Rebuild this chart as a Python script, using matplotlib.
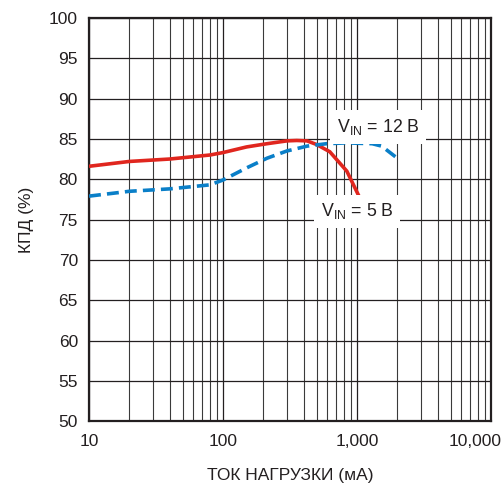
import matplotlib
matplotlib.use("Agg")
import matplotlib.pyplot as plt
from matplotlib.ticker import FixedLocator, LogLocator, NullFormatter
from matplotlib.transforms import ScaledTranslation

# load current (mA) vs efficiency (%)
red_x = [10, 20, 40, 80, 100, 150, 213, 300, 355, 424, 500, 627, 840, 1070]
red_y = [81.6, 82.2, 82.5, 83.0, 83.3, 84.0, 84.4, 84.75, 84.8, 84.75, 84.3, 83.4, 81.0, 77.4]

blue_x = [10, 20, 40, 80, 100, 150, 213, 300, 424, 593, 830, 1300, 1530, 2000]
blue_y = [77.9, 78.5, 78.8, 79.3, 79.9, 81.4, 82.6, 83.5, 84.1, 84.4, 84.5, 84.4, 84.1, 82.6]

x_ticks = [10, 100, 1000, 10000]
x_labels = ["10", "100", "1,000", "10,000"]
y_ticks = list(range(50, 101, 5))

plt.rcParams["font.family"] = ["Liberation Sans", "DejaVu Sans"]
plt.rcParams["mathtext.fontset"] = "custom"
plt.rcParams["mathtext.rm"] = "Liberation Sans"

dark = "#231f20"
fs = 12.5
fig = plt.figure(figsize=(5.03, 4.83), dpi=100)
ax = fig.add_axes([0.177, 0.128, 0.799, 0.835])

ax.set_xscale("log")
ax.set_xlim(10, 10000)
ax.set_ylim(50, 100)

ax.xaxis.set_major_locator(FixedLocator(x_ticks))
ax.set_xticklabels(x_labels)
ax.xaxis.set_minor_locator(LogLocator(base=10, subs=range(2, 10)))
ax.xaxis.set_minor_formatter(NullFormatter())
ax.set_yticks(y_ticks)

ax.grid(True, which="major", axis="x", color=dark, lw=0.9)
ax.grid(True, which="minor", axis="x", color="#3a3a3a", lw=0.8)
ax.grid(True, which="major", axis="y", color=dark, lw=0.9)
ax.tick_params(which="both", length=0, labelsize=fs, colors=dark)
ax.tick_params(axis="y", pad=8)
ax.tick_params(axis="x", pad=9)
for s in ax.spines.values():
    s.set_color(dark)
    s.set_linewidth(1.6)

# last label sits left of its tick so it stays inside the figure
last = ax.get_xticklabels()[-1]
last.set_transform(last.get_transform() + ScaledTranslation(-0.16, 0, fig.dpi_scale_trans))

ax.plot(red_x, red_y, color="#e0261e", lw=2.6, solid_capstyle="butt", zorder=3)
ax.plot(blue_x, blue_y, color="#0a7fc8", lw=2.6, dashes=(3.3, 1.7), zorder=3)

box = dict(facecolor="white", edgecolor="none", pad=5)
ax.text(1435, 86.5, r"$\mathregular{V_{IN}}$ = 12 B", fontsize=fs + 0.3, color=dark,
        ha="center", va="center", bbox=box, zorder=4)
ax.text(1000, 76.0, r"$\mathregular{V_{IN}}$ = 5 B", fontsize=fs + 0.3, color=dark,
        ha="center", va="center", bbox=box, zorder=4)

ax.set_xlabel("ТОК НАГРУЗКИ (мА)", fontsize=fs, color=dark, labelpad=14)
ax.set_ylabel("КПД (%)", fontsize=fs, color=dark, labelpad=11)

fig.savefig("out.png", dpi=100)
